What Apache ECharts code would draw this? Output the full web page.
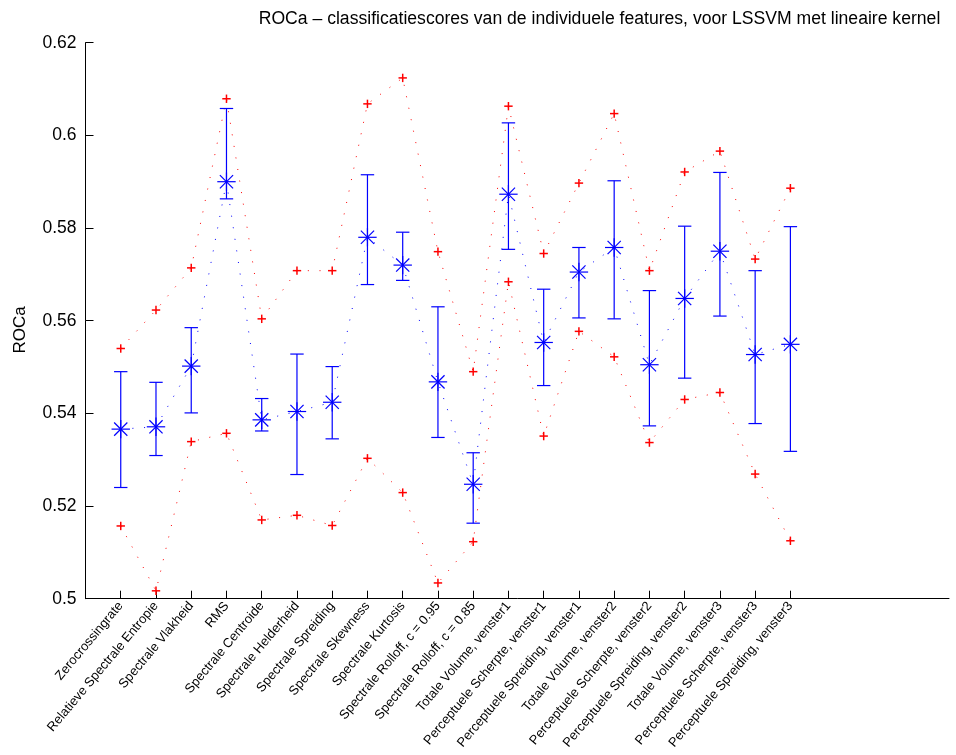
<!DOCTYPE html>
<html>
<head>
<meta charset="utf-8">
<script src="https://cdn.jsdelivr.net/npm/echarts@6/dist/echarts.min.js"></script>
<style>html,body{margin:0;padding:0;background:#fff}#c{width:956px;height:755px}</style>
</head>
<body>
<div id="c"></div>
<script>
const categories = ['Zerocrossingrate','Relatieve Spectrale Entropie','Spectrale Vlakheid','RMS','Spectrale Centroide','Spectrale Helderheid','Spectrale Spreiding','Spectrale Skewness','Spectrale Kurtosis','Spectrale Rolloff, c = 0.95','Spectrale Rolloff, c = 0.85','Totale Volume, venster1','Perceptuele Scherpte, venster1','Perceptuele Spreiding, venster1','Totale Volume, venster2','Perceptuele Scherpte, venster2','Perceptuele Spreiding, venster2','Totale Volume, venster3','Perceptuele Scherpte, venster3','Perceptuele Spreiding, venster3'];
const meanRoc = [0.5366,0.5371,0.5502,0.5900,0.5386,0.5404,0.5424,0.5780,0.5720,0.5468,0.5247,0.5873,0.5553,0.5705,0.5758,0.5505,0.5648,0.5750,0.5527,0.5549];
const barHigh = [0.5490,0.5467,0.5585,0.6058,0.5432,0.5528,0.5501,0.5915,0.5791,0.5630,0.5315,0.6027,0.5668,0.5758,0.5902,0.5665,0.5804,0.5920,0.5708,0.5803];
const barLow  = [0.5240,0.5309,0.5401,0.5863,0.5362,0.5268,0.5345,0.5678,0.5687,0.5348,0.5163,0.5754,0.5460,0.5606,0.5604,0.5373,0.5476,0.5610,0.5378,0.5318];
const maxRoc  = [0.5540,0.5623,0.5714,0.6079,0.5604,0.5708,0.5708,0.6068,0.6124,0.5749,0.5490,0.6063,0.5745,0.5897,0.6047,0.5708,0.5921,0.5966,0.5733,0.5886];
const minRoc  = [0.5157,0.5017,0.5339,0.5357,0.5170,0.5180,0.5158,0.5303,0.5229,0.5034,0.5123,0.5684,0.5351,0.5577,0.5522,0.5337,0.5430,0.5445,0.5269,0.5125];
const yTicks = [0.5,0.52,0.54,0.56,0.58,0.6,0.62];

const xs = categories.map((_, i) => i + 1);
const pts = arr => arr.map((v, i) => [i + 1, v]);
const BLUE = '#0000ff', RED = '#ff0000';
const FONT = "'Liberation Sans', Arial, Helvetica, sans-serif";

function lineEl(x1, y1, x2, y2, color, w) {
  return {type: 'line', shape: {x1, y1, x2, y2}, style: {stroke: color, lineWidth: w}};
}

const chart = echarts.init(document.getElementById('c'), null, {renderer: 'canvas'});
chart.setOption({
  animation: false,
  backgroundColor: '#fff',
  grid: {left: 85.5, right: 7, top: 42.7, bottom: 156.3, containLabel: false},
  graphic: [
    {type: 'text', x: 599.5, y: 19, style: {text: 'ROCa \u2013 classificatiescores van de individuele features, voor LSSVM met lineaire kernel', font: '17.6px ' + FONT, fill: '#000', textAlign: 'center', textVerticalAlign: 'middle'}},
    {type: 'text', x: 20, y: 330, rotation: Math.PI / 2, style: {text: 'ROCa', font: '17px ' + FONT, fill: '#000', textAlign: 'center', textVerticalAlign: 'middle'}}
  ],
  xAxis: {
    type: 'value', min: 0, max: 24.5,
    splitLine: {show: false},
    axisLine: {lineStyle: {color: '#000', width: 1}},
    axisTick: {inside: true, length: 8, customValues: xs, lineStyle: {color: '#000'}},
    axisLabel: {customValues: xs, formatter: v => categories[Math.round(v) - 1] || '', rotate: 50, fontSize: 13, fontFamily: FONT, color: '#000', margin: 5}
  },
  yAxis: {
    type: 'value', min: yTicks[0], max: yTicks[yTicks.length - 1], interval: 0.02,
    splitLine: {show: false},
    axisLine: {show: true, lineStyle: {color: '#000', width: 1}},
    axisTick: {inside: true, length: 8, lineStyle: {color: '#000'}},
    axisLabel: {formatter: v => String(+v.toFixed(2)), fontSize: 17.5, fontFamily: FONT, color: '#000', margin: 9}
  },
  series: [
    {type: 'line', data: pts(meanRoc), symbol: 'none', lineStyle: {color: BLUE, width: 1, type: [1, 10.7]}, z: 2},
    {type: 'line', data: pts(maxRoc), symbol: 'none', lineStyle: {color: RED, width: 1, type: [1, 10.7]}, z: 2},
    {type: 'line', data: pts(minRoc), symbol: 'none', lineStyle: {color: RED, width: 1, type: [1, 10.7]}, z: 2},
    {
      type: 'custom', z: 3,
      data: xs.map((x, i) => [x, barLow[i], barHigh[i]]),
      renderItem: (params, api) => {
        const lo = api.coord([api.value(0), api.value(1)]);
        const hi = api.coord([api.value(0), api.value(2)]);
        const c = 6.7;
        return {type: 'group', children: [
          lineEl(lo[0], lo[1], hi[0], hi[1], BLUE, 1.2),
          lineEl(lo[0] - c, lo[1], lo[0] + c, lo[1], BLUE, 1.2),
          lineEl(hi[0] - c, hi[1], hi[0] + c, hi[1], BLUE, 1.2)
        ]};
      }
    },
    {
      type: 'custom', z: 4,
      data: pts(meanRoc),
      renderItem: (params, api) => {
        const p = api.coord([api.value(0), api.value(1)]);
        const a = 9.2, d = 6.6;
        return {type: 'group', children: [
          lineEl(p[0] - a, p[1], p[0] + a, p[1], BLUE, 1.2),
          lineEl(p[0], p[1] - a, p[0], p[1] + a, BLUE, 1.2),
          lineEl(p[0] - d, p[1] - d, p[0] + d, p[1] + d, BLUE, 1.2),
          lineEl(p[0] - d, p[1] + d, p[0] + d, p[1] - d, BLUE, 1.2)
        ]};
      }
    },
    {
      type: 'custom', z: 5,
      data: pts(maxRoc).concat(pts(minRoc)),
      renderItem: (params, api) => {
        const p = api.coord([api.value(0), api.value(1)]);
        const a = 4.2;
        return {type: 'group', children: [
          lineEl(p[0] - a, p[1], p[0] + a, p[1], RED, 1.5),
          lineEl(p[0], p[1] - a, p[0], p[1] + a, RED, 1.5)
        ]};
      }
    }
  ]
});
</script>
</body>
</html>
